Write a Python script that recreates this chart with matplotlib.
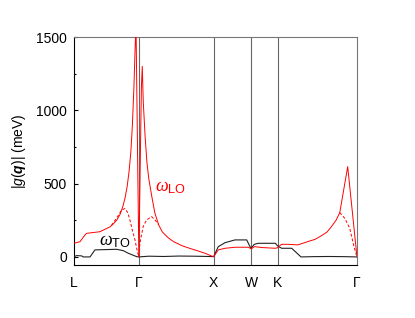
import numpy as np
import matplotlib.pyplot as plt

plt.rcParams['font.family'] = ['Liberation Sans', 'DejaVu Sans']
plt.rcParams['mathtext.fontset'] = 'custom'
plt.rcParams['mathtext.rm'] = 'Liberation Sans'
plt.rcParams['mathtext.it'] = 'Liberation Serif:italic'
plt.rcParams['mathtext.sf'] = 'Liberation Sans:italic'
plt.rcParams['mathtext.bf'] = 'Liberation Sans:bold:italic'

# high-symmetry path L-G-X-W-K-G (fcc), path coordinates
kpts = [0.0, 0.866, 1.866, 2.366, 2.720, 3.780]
klabels = ['L', 'Γ', 'X', 'W', 'K', 'Γ']

# omega_TO coupling (black)
to_k = [0.0, 0.036, 0.103, 0.124, 0.214, 0.280, 0.570, 0.658, 0.725, 0.837, 0.866,
        1.0, 1.2, 1.4, 1.6, 1.8, 1.866,
        1.927, 2.017, 2.150, 2.307, 2.351, 2.366, 2.408, 2.462, 2.690, 2.720,
        2.774, 2.908, 3.032, 3.2, 3.4, 3.6, 3.78]
to_g = [2, 9, 7, 0, 0, 48, 52, 43, 25, 2, 0,
        5, 3, 6, 5, 3, 2,
        70, 97, 116, 116, 70, 59, 86, 93, 93, 75,
        59, 59, 0, 2, 3, 2, 0]

# omega_LO coupling (red solid)
lo_k = [0.0, 0.080, 0.147, 0.169, 0.347, 0.481, 0.525, 0.570, 0.615, 0.650, 0.681,
        0.710, 0.735, 0.760, 0.780, 0.800, 0.815, 0.828, 0.866,
        0.900, 0.912, 0.925, 0.950, 0.975, 1.000, 1.040, 1.080, 1.130, 1.180,
        1.260, 1.330, 1.450, 1.550, 1.650, 1.750, 1.840, 1.866,
        1.927, 2.017, 2.150, 2.330, 2.366, 2.410, 2.510, 2.690, 2.720,
        2.770, 2.860, 2.990, 3.120, 3.220, 3.300, 3.380, 3.440, 3.500, 3.550,
        3.656, 3.780]
lo_g = [93, 104, 150, 161, 172, 205, 225, 250, 290, 340, 400,
        480, 580, 720, 900, 1150, 1400, 1600, 0,
        1150, 1300, 1060, 820, 640, 530, 410, 300, 220, 170,
        130, 104, 75, 58, 42, 25, 6, 2,
        48, 59, 66, 66, 55, 70, 64, 59, 63,
        86, 86, 82, 104, 120, 143, 170, 207, 250, 302,
        616, 0]

# red dashed branches near Gamma
dash1_k = [0.500, 0.570, 0.636, 0.681, 0.720, 0.748, 0.780, 0.815, 0.845, 0.866,
           0.880, 0.924, 0.970, 1.037, 1.082, 1.130]
dash1_g = [215, 265, 320, 330, 300, 250, 180, 115, 40, 0,
           93, 207, 252, 275, 252, 220]
dash2_k = [3.550, 3.616, 3.683, 3.740, 3.780]
dash2_g = [302, 264, 196, 70, 0]

fig = plt.figure(figsize=(4.15, 3.18), dpi=100)
ax = fig.add_axes([0.1783, 0.1667, 0.6819, 0.7169])

for k in kpts[1:-1]:
    ax.axvline(k, color='#666666', lw=0.8, zorder=1)

ax.plot(to_k, to_g, color='#222222', lw=0.8, zorder=3)
ax.plot(lo_k, lo_g, color='red', lw=0.7, zorder=4)
ax.plot(dash1_k, dash1_g, color='red', lw=0.7, ls=(0, (3, 2)), zorder=4)
ax.plot(dash2_k, dash2_g, color='red', lw=0.7, ls=(0, (3, 2)), zorder=4)

ax.text(0.34, 80, r'$\omega_{\mathrm{TO}}$', fontsize=13, color='black')
ax.text(1.08, 450, r'$\omega_{\mathrm{LO}}$', fontsize=13, color='red')

ax.set_xlim(kpts[0], kpts[-1])
ax.set_ylim(-55, 1500)
ax.set_xticks(kpts)
ax.set_xticklabels(klabels)
ax.set_yticks([0, 500, 1000, 1500])
ax.set_yticks([250, 750, 1250], minor=True)
ax.tick_params(axis='x', length=0, pad=8, labelsize=10)
ax.tick_params(axis='y', which='major', direction='in', length=3, width=0.8, pad=5, labelsize=10)
ax.tick_params(axis='y', which='minor', direction='in', length=1.5, width=0.8)
ax.set_ylabel(r'$|\mathsf{g}(\mathbf{q})|$ (meV)', fontsize=10, labelpad=6)

for s in ['top', 'right']:
    ax.spines[s].set_color('#777777')
for s in ['left', 'bottom']:
    ax.spines[s].set_color('black')
for s in ax.spines.values():
    s.set_linewidth(0.8)

plt.savefig('out.png', dpi=100)
